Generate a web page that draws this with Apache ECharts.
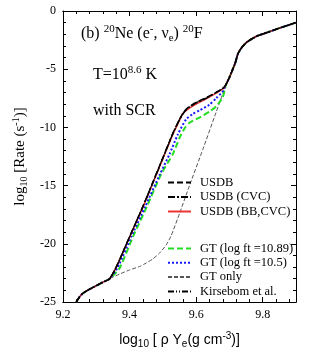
<!DOCTYPE html>
<html>
<head>
<meta charset="utf-8">
<script src="https://cdn.jsdelivr.net/npm/echarts@6/dist/echarts.min.js"></script>
<style>
  html, body { margin: 0; padding: 0; background: #fff; }
  #chart { width: 325px; height: 354px; }
</style>
</head>
<body>
<div id="chart"></div>
<script>
// tick labels
var xTickLabels = ['9.2', '9.4', '9.6', '9.8']
var yTickLabels = ['-25', '-20', '-15', '-10', '-5', '0']

// shared parts of all curves, [log10(rho Ye), log10 rate]
var lowBranch = [[9.24, -25.0], [9.25, -24.55], [9.26, -24.25], [9.28, -23.9], [9.30, -23.6], [9.32, -23.3], [9.34, -23.0]]
var topBranch = [[9.69, -6.3], [9.70, -5.7], [9.717, -4.5], [9.726, -3.65], [9.738, -3.1], [9.753, -2.66], [9.783, -2.15], [9.813, -1.85], [9.852, -1.45], [9.90, -1.0]]

// middle parts, where the curves differ
var usdbMid = [[9.36, -22.0], [9.40, -19.4], [9.44, -16.8], [9.47, -14.7], [9.50, -12.6], [9.53, -10.5], [9.55, -9.3], [9.565, -8.6], [9.58, -8.2], [9.60, -7.85], [9.63, -7.45], [9.66, -7.0], [9.68, -6.65]]
var usdbCvcMid = [[9.36, -22.0], [9.40, -19.4], [9.44, -16.8], [9.47, -14.75], [9.50, -12.65], [9.53, -10.55], [9.55, -9.35], [9.565, -8.65], [9.58, -8.25], [9.60, -7.9], [9.63, -7.5], [9.66, -7.0], [9.68, -6.65]]
var usdbBbCvcMid = [[9.36, -22.0], [9.40, -19.45], [9.44, -16.85], [9.47, -14.8], [9.50, -12.7], [9.53, -10.6], [9.55, -9.4], [9.56, -8.8], [9.58, -8.35], [9.60, -8.0], [9.63, -7.55], [9.66, -7.05], [9.68, -6.7]]
var gt1089Mid = [[9.37, -22.1], [9.41, -19.4], [9.452, -16.8], [9.495, -14.0], [9.53, -12.3], [9.55, -10.9], [9.566, -10.05], [9.58, -9.6], [9.61, -9.15], [9.64, -8.65], [9.66, -8.2], [9.68, -7.4]]
var gt105Mid = [[9.365, -22.0], [9.405, -19.4], [9.447, -16.8], [9.49, -14.1], [9.52, -12.3], [9.545, -10.6], [9.57, -9.3], [9.59, -8.85], [9.61, -8.55], [9.64, -8.05], [9.66, -7.5], [9.68, -6.9]]
var gtOnlyMid = [[9.37, -22.6], [9.40, -22.25], [9.43, -21.95], [9.45, -21.65], [9.47, -21.3], [9.49, -20.8], [9.51, -20.1], [9.525, -19.3], [9.55, -17.4], [9.58, -15.0], [9.62, -11.9], [9.66, -8.7], [9.68, -7.1]]
var kirsebomMid = [[9.36, -22.0], [9.40, -19.4], [9.44, -16.8], [9.47, -14.7], [9.50, -12.6], [9.53, -10.5], [9.55, -9.3], [9.565, -8.6], [9.58, -8.2], [9.60, -7.85], [9.63, -7.45], [9.66, -7.0], [9.68, -6.65]]

var serif = '"Liberation Serif", "DejaVu Serif", serif'
var sans = '"Liberation Sans", Arial, sans-serif'

function curve(mid) {
  return lowBranch.concat(mid, topBranch)
}

function line(name, mid, color, width, dash, z) {
  return {
    name: name,
    type: 'line',
    data: curve(mid),
    symbol: 'none',
    smooth: 0.2,
    z: z,
    lineStyle: { color: color, width: width, type: dash },
    itemStyle: { color: color }
  }
}

function xAxisOf(pos, interval, len, labels) {
  return {
    type: 'value',
    position: pos,
    min: 9.2,
    max: 9.9,
    interval: interval,
    axisLine: { show: true, onZero: false, lineStyle: { color: '#000', width: 1 } },
    axisTick: { show: true, inside: true, length: len, lineStyle: { color: '#000' } },
    axisLabel: {
      show: labels,
      margin: 7,
      color: '#000',
      fontFamily: serif,
      fontSize: 12,
      formatter: function(v) {
        for (var i = 0; i < xTickLabels.length; i++) {
          if (Math.abs(parseFloat(xTickLabels[i]) - v) < 1e-6) return xTickLabels[i]
        }
        return ''
      }
    },
    splitLine: { show: false }
  }
}

function yAxisOf(pos, labels) {
  return {
    type: 'value',
    position: pos,
    min: -25,
    max: 0,
    interval: 5,
    axisLine: { show: true, onZero: false, lineStyle: { color: '#000', width: 1 } },
    axisTick: { show: true, inside: true, length: 5, lineStyle: { color: '#000' } },
    minorTick: { show: true, splitNumber: 5, length: 3, lineStyle: { color: '#000' } },
    axisLabel: {
      show: labels,
      margin: 7,
      color: '#000',
      fontFamily: serif,
      fontSize: 12,
      formatter: function(v) {
        var s = String(v)
        return yTickLabels.indexOf(s) >= 0 ? s : ''
      }
    },
    splitLine: { show: false }
  }
}

var xBottom = xAxisOf('bottom', 0.2, 5, true)
xBottom.name = 'log{sub|10} [ ρ Y{sub|e}(g cm{sup|-3})]'
xBottom.nameLocation = 'middle'
xBottom.nameGap = 29
xBottom.nameTextStyle = {
  color: '#000', fontFamily: sans, fontSize: 14,
  rich: {
    sub: { fontFamily: sans, fontSize: 10, padding: [8, 0, 0, 0], color: '#000' },
    sup: { fontFamily: sans, fontSize: 10, padding: [0, 0, 8, 0], color: '#000' }
  }
}

var yLeft = yAxisOf('left', true)
yLeft.name = 'log{sub|10} [Rate (s{sup|-1})]'
yLeft.nameLocation = 'middle'
yLeft.nameGap = 31
yLeft.nameTextStyle = {
  color: '#000', fontFamily: serif, fontSize: 15,
  rich: {
    sub: { fontFamily: serif, fontSize: 10, padding: [8, 0, 0, 0], color: '#000' },
    sup: { fontFamily: serif, fontSize: 10, padding: [0, 0, 8, 0], color: '#000' }
  }
}

var legendText = { color: '#000', fontFamily: serif, fontSize: 12.5, padding: [0, 0, 0, 4] }
var richAnno = {
  sup: { fontFamily: serif, fontSize: 11, padding: [0, 0, 9, 0], fill: '#000' },
  sub: { fontFamily: serif, fontSize: 11, padding: [8, 0, 0, 0], fill: '#000' }
}

var chart = echarts.init(document.getElementById('chart'), null, { renderer: 'canvas' })
chart.setOption({
  backgroundColor: '#fff',
  animation: false,
  grid: { left: 63, right: 29, top: 11, bottom: 52, containLabel: false },
  xAxis: [
    xBottom,
    xAxisOf('bottom', 0.04, 3, false),
    xAxisOf('top', 0.2, 5, false),
    xAxisOf('top', 0.04, 3, false)
  ],
  yAxis: [yLeft, yAxisOf('right', false)],
  legend: [
    {
      orient: 'vertical', left: 162, top: 171,
      itemWidth: 23, itemHeight: 14, itemGap: 1.5,
      itemStyle: { opacity: 0 },
      textStyle: legendText,
      data: ['USDB', 'USDB (CVC)', 'USDB (BB,CVC)']
    },
    {
      orient: 'vertical', left: 162, top: 237,
      itemWidth: 23, itemHeight: 14, itemGap: 1.3,
      itemStyle: { opacity: 0 },
      textStyle: legendText,
      data: ['GT (log ft =10.89)', 'GT (log ft =10.5)', 'GT only', 'Kirsebom et al.']
    }
  ],
  graphic: [
    {
      type: 'text', x: 81, y: 34,
      style: {
        text: '(b) {sup|20}Ne (e{sup|-}, ν{sub|e}) {sup|20}F',
        font: '16px ' + serif, fill: '#000', verticalAlign: 'middle', rich: richAnno
      }
    },
    {
      type: 'text', x: 93, y: 75,
      style: {
        text: 'T=10{sup|8.6} K',
        font: '16px ' + serif, fill: '#000', verticalAlign: 'middle', rich: richAnno
      }
    },
    {
      type: 'text', x: 93, y: 111,
      style: { text: 'with SCR', font: '16px ' + serif, fill: '#000', verticalAlign: 'middle' }
    }
  ],
  series: [
    line('GT only', gtOnlyMid, '#555', 1, [4, 2], 1),
    line('GT (log ft =10.89)', gt1089Mid, '#22dd22', 2, [6, 3], 2),
    line('GT (log ft =10.5)', gt105Mid, '#1a1aff', 2, [2, 2], 3),
    line('USDB (BB,CVC)', usdbBbCvcMid, '#ee3333', 1.5, 'solid', 4),
    line('USDB', usdbMid, '#000', 1.5, [6, 3], 5),
    line('USDB (CVC)', usdbCvcMid, '#000', 1.5, [7, 2, 2, 2], 6),
    line('Kirsebom et al.', kirsebomMid, '#000', 1, [6, 2, 1, 2, 1, 2], 7)
  ]
})
</script>
</body>
</html>
